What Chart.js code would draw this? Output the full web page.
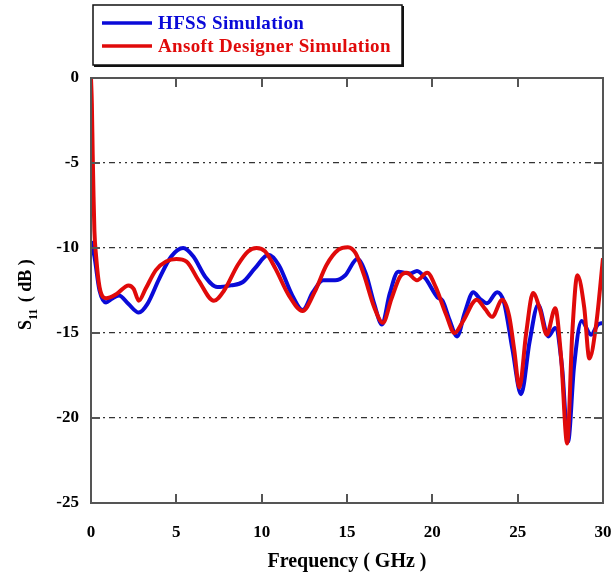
<!DOCTYPE html>
<html>
<head>
<meta charset="utf-8">
<script src="https://cdn.jsdelivr.net/npm/chart.js@4"></script>
<style>
  html, body { margin: 0; padding: 0; background: #fff; }
  #s11Chart { display: block; }
</style>
</head>
<body>
<canvas id="s11Chart" width="611" height="577"></canvas>
<script>
// HFSS simulation, frequency in GHz and S11 in dB
const hfssFreq = [0, 0.2, 0.5, 0.88, 1.2, 1.64, 2.2, 2.8, 3.3, 4.0, 4.7, 5.4, 6.0, 6.7, 7.4, 8.2, 8.9, 9.6, 10.4, 11.0,
  11.8, 12.4, 13.0, 13.6, 14.3, 14.9, 15.6, 16.1, 16.6, 17.05, 17.5, 18.0, 18.7, 19.1, 19.6, 20.3, 20.6, 21.0, 21.45,
  21.9, 22.4, 22.8, 23.2, 23.8, 24.2, 24.7, 25.2, 25.7, 26.2, 26.8, 27.2, 27.6, 27.95, 28.3, 28.75, 29.3, 29.7, 30];
const hfssS11 = [-9.6, -10.5, -12.5, -13.2, -13.0, -12.8, -13.3, -13.8, -13.3, -11.8, -10.5, -10.0, -10.5, -11.7, -12.3,
  -12.2, -12.0, -11.2, -10.4, -11.0, -12.8, -13.65, -12.6, -11.9, -11.9, -11.6, -10.65, -11.5, -13.3, -14.5, -12.7,
  -11.4, -11.5, -11.35, -11.8, -12.9, -13.1, -14.2, -15.2, -13.8, -12.6, -13.0, -13.25, -12.6, -13.2, -16.0, -18.6,
  -15.5, -13.35, -15.2, -14.7, -17.0, -21.4, -17.0, -14.3, -15.1, -14.5, -14.4];

// Ansoft Designer simulation
const designerFreq = [0, 0.05, 0.1, 0.15, 0.2, 0.3, 0.5, 0.88, 1.5, 2.2, 2.5, 2.8, 3.2, 3.8, 4.4, 5.0, 5.6, 6.3, 7.2, 7.8,
  8.6, 9.2, 9.7, 10.2, 10.8, 11.6, 12.4, 13.1, 13.8, 14.5, 15.05, 15.5, 16.0, 16.6, 17.1, 17.6, 18.1, 18.5, 19.1, 19.7,
  20.2, 20.8, 21.3, 21.8, 22.6, 23.1, 23.5, 24.1, 24.5, 24.8, 25.1, 25.5, 25.9, 26.3, 26.7, 27.2, 27.55, 27.9, 28.2,
  28.5, 28.9, 29.2, 29.6, 30];
const designerS11 = [0, -1.5, -4.5, -7, -9, -10.5, -12.3, -12.95, -12.7, -12.2, -12.4, -13.1, -12.4, -11.3, -10.8, -10.65,
  -10.8, -11.9, -13.1, -12.5, -11.0, -10.2, -10.0, -10.2, -11.2, -12.8, -13.7, -12.6, -11.0, -10.1, -9.95, -10.3, -11.6,
  -13.5, -14.4, -13.0, -11.7, -11.45, -11.9, -11.45, -12.3, -13.9, -15.0, -14.3, -13.05, -13.6, -14.05, -13.05, -14.0,
  -16.0, -18.2, -15.0, -12.65, -13.6, -15.1, -13.55, -16.5, -21.5, -15.0, -11.6, -13.5, -16.5, -14.5, -10.6];

const xTicks = [0, 5, 10, 15, 20, 25, 30];
const yTicks = [0, -5, -10, -15, -20, -25];

const seriesNames = ['HFSS Simulation', 'Ansoft Designer Simulation'];
const seriesColors = ['#0a0ad8', '#e00a0a'];

const serif = '"Liberation Serif", "Times New Roman", serif';

const toPoints = (xs, ys) => xs.map((x, i) => ({ x: x, y: ys[i] }));

// frame, inward tick marks, legend box and the S11 axis title
const decorations = {
  id: 'decorations',
  afterDraw(chart) {
    const { ctx, chartArea: a, scales } = chart;
    ctx.save();

    ctx.strokeStyle = '#555';
    ctx.lineWidth = 2;
    ctx.strokeRect(a.left, a.top, a.right - a.left, a.bottom - a.top);

    ctx.beginPath();
    xTicks.slice(1, -1).forEach(v => {
      const px = Math.round(scales.x.getPixelForValue(v));
      ctx.moveTo(px, a.bottom); ctx.lineTo(px, a.bottom - 9);
      ctx.moveTo(px, a.top); ctx.lineTo(px, a.top + 9);
    });
    yTicks.slice(1, -1).forEach(v => {
      const py = Math.round(scales.y.getPixelForValue(v));
      ctx.moveTo(a.left, py); ctx.lineTo(a.left + 9, py);
      ctx.moveTo(a.right, py); ctx.lineTo(a.right - 9, py);
    });
    ctx.stroke();

    // legend
    ctx.fillStyle = '#fff';
    ctx.fillRect(93, 5, 309, 60);
    ctx.strokeStyle = '#111';
    ctx.lineWidth = 1.5;
    ctx.strokeRect(93, 5, 309, 60);
    ctx.lineWidth = 2;
    ctx.beginPath();
    ctx.moveTo(403, 6); ctx.lineTo(403, 66); ctx.lineTo(94, 66);
    ctx.stroke();

    ctx.font = 'bold 19px ' + serif;
    ctx.letterSpacing = '0.35px';
    ctx.textBaseline = 'middle';
    ctx.textAlign = 'left';
    [23, 46].forEach((ly, i) => {
      ctx.strokeStyle = seriesColors[i];
      ctx.lineWidth = 3.5;
      ctx.beginPath();
      ctx.moveTo(102, ly); ctx.lineTo(152, ly);
      ctx.stroke();
      ctx.fillStyle = seriesColors[i];
      ctx.fillText(seriesNames[i], 158, ly + 1);
    });
    ctx.letterSpacing = '0px';

    // rotated y title with subscript
    ctx.translate(31, 330);
    ctx.rotate(-Math.PI / 2);
    ctx.fillStyle = '#000';
    ctx.textBaseline = 'alphabetic';
    ctx.font = 'bold 18px ' + serif;
    ctx.fillText('S', 0, 0);
    const sw = ctx.measureText('S').width;
    ctx.font = 'bold 12px ' + serif;
    ctx.fillText('11', sw, 6);
    const subw = ctx.measureText('11').width;
    ctx.font = 'bold 18px ' + serif;
    ctx.fillText(' ( dB )', sw + subw + 2, 0);

    ctx.restore();
  }
};

new Chart(document.getElementById('s11Chart').getContext('2d'), {
  type: 'line',
  data: {
    datasets: [
      {
        label: seriesNames[1],
        data: toPoints(designerFreq, designerS11),
        borderColor: seriesColors[1],
        borderWidth: 4,
        pointRadius: 0,
        cubicInterpolationMode: 'monotone',
        order: 0
      },
      {
        label: seriesNames[0],
        data: toPoints(hfssFreq, hfssS11),
        borderColor: seriesColors[0],
        borderWidth: 4,
        pointRadius: 0,
        cubicInterpolationMode: 'monotone',
        order: 1
      }
    ]
  },
  options: {
    responsive: false,
    animation: false,
    layout: { padding: { top: 78, right: 8, left: 0, bottom: 0 } },
    plugins: {
      legend: { display: false },
      tooltip: { enabled: false }
    },
    scales: {
      x: {
        type: 'linear',
        min: 0,
        max: 30,
        afterFit: scale => {
          scale.height = 74;
          scale.paddingLeft = 0;
          scale.paddingRight = 0;
        },
        afterBuildTicks: scale => { scale.ticks = xTicks.map(v => ({ value: v })); },
        ticks: {
          padding: 11,
          color: '#000',
          font: { family: serif, size: 17, weight: 'bold' }
        },
        grid: { display: false },
        border: { display: false },
        title: {
          display: true,
          text: 'Frequency ( GHz )',
          color: '#000',
          font: { family: serif, size: 20, weight: 'bold' },
          padding: { top: 0, bottom: 3 }
        }
      },
      y: {
        min: -25,
        max: 0,
        afterFit: scale => {
          scale.width = 91;
          scale.paddingTop = 0;
          scale.paddingBottom = 0;
        },
        afterBuildTicks: scale => { scale.ticks = yTicks.map(v => ({ value: v })); },
        ticks: {
          padding: 12,
          color: '#000',
          font: { family: serif, size: 17, weight: 'bold' }
        },
        grid: {
          drawTicks: false,
          color: ctx => (ctx.tick && (ctx.tick.value === 0 || ctx.tick.value === -25)) ? 'rgba(0,0,0,0)' : '#333',
          lineWidth: 1.2
        },
        border: { display: false, dash: [2, 4, 2, 4, 2, 4, 6, 4] }
      }
    }
  },
  plugins: [decorations]
});
</script>
</body>
</html>
